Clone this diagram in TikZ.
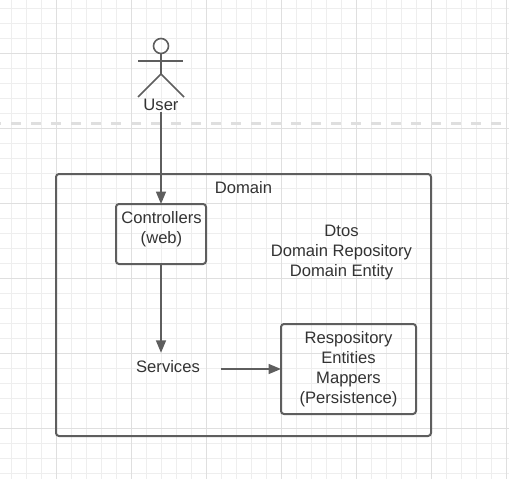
\documentclass[tikz,border=0pt]{standalone}
\usepackage{fontspec}
\setmainfont{Liberation Sans}
\usetikzlibrary{arrows.meta}
\definecolor{linegray}{HTML}{5E5E5E}
\definecolor{textgray}{HTML}{333333}
\definecolor{minorgrid}{HTML}{EEEEEE}
\definecolor{majorgrid}{HTML}{DFDFDF}
\tikzset{
    box/.style={rectangle, draw=linegray, line width=2pt, rounded corners=3pt, outer sep=0pt},
    label/.style={text=textgray, font=\fontsize{16.6}{20}\selectfont, align=center, inner sep=0pt},
    link/.style={draw=linegray, line width=1.6pt, -{Triangle[length=12.5pt, width=10pt]}},
    stick/.style={draw=linegray, line width=1.6pt},
}

\begin{document}
\begin{tikzpicture}[x=1pt, y=-1pt]
    \useasboundingbox (0,0) rectangle (509,479);
    \fill[white] (0,0) rectangle (509,479);
    % grid
    \foreach \x in {11.5,26.5,...,506.5}
        \draw[minorgrid, line width=1pt] (\x,0) -- (\x,479);
    \foreach \y in {8,23,...,473}
        \draw[minorgrid, line width=1pt] (0,\y) -- (509,\y);
    \foreach \x in {56.5,131.5,...,506.5}
        \draw[majorgrid, line width=1pt] (\x,0) -- (\x,479);
    \foreach \y in {53,128,...,428}
        \draw[majorgrid, line width=1pt] (0,\y) -- (509,\y);
    \draw[majorgrid, line width=3pt, dash pattern=on 10pt off 10pt, dash phase=9pt] (0,123) -- (509,123);

    % actor
    \node[circle, draw=linegray, line width=1.6pt, minimum size=15pt, inner sep=0pt, outer sep=0pt] (head) at (161,46) {};
    \coordinate (hip) at (161,74);
    \coordinate (armleft) at (138,61);
    \coordinate (armright) at (183,61);
    \coordinate (footleft) at (138,97);
    \coordinate (footright) at (184,97);
    \draw[stick] (head.south) -- (hip);
    \draw[stick] (armleft) -- (armright);
    \draw[stick] (footleft) -- (hip) -- (footright);
    \node[label] (user) at (161,105) {User};
    \coordinate (userend) at (161,112);

    % boxes
    \node[box, minimum width=375pt, minimum height=262pt] (domain) at (243.5,305) {};
    \node[label] (domainlabel) at (243.5,187.5) {Domain};
    \node[box, minimum width=90pt, minimum height=60pt] (controllers) at (161,234) {};
    \node[label] (controllerstext) at (161.5,229) {Controllers\\(web)};
    \node[label] (dtos) at (341.5,253) {Dtos\\Domain Repository\\Domain Entity};
    \node[label, minimum width=106pt, minimum height=28pt] (services) at (168,367) {Services};
    \node[box, label, minimum width=135pt, minimum height=90pt] (repo) at (348.5,369) {Respository\\Entities\\Mappers\\(Persistence)};

    % arrows
    \draw[link] (userend) -- (controllers.north);
    \draw[link] (controllers.south) -- (controllers.south |- services.north);
    \draw[link] (services.east |- repo.west) -- (repo.west);
\end{tikzpicture}
\end{document}
